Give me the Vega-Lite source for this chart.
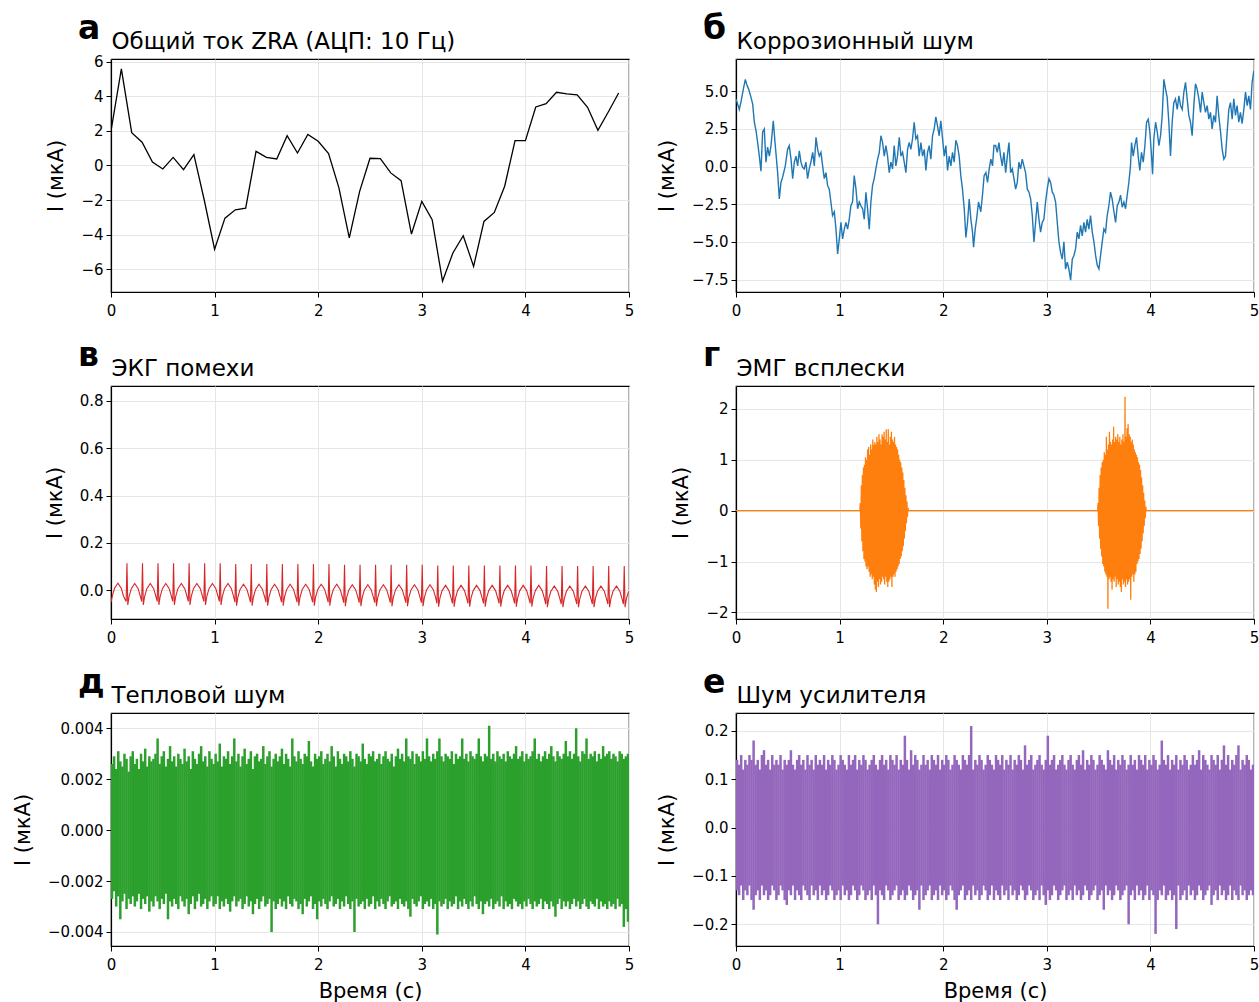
{
"$schema": "https://vega.github.io/schema/vega-lite/v6.json",
"background": "white",
"padding": {"left": 11, "top": 12, "right": 0, "bottom": 0},
"columns": 2,
"bounds": "flush",
"spacing": {"column": 107, "row": 94},
"config": {
  "font": "DejaVu Sans",
  "view": {"stroke": "#000000", "strokeWidth": 1.2},
  "axis": {"labelFont": "DejaVu Sans", "labelFontSize": 15, "labelColor": "#000000", "titleFont": "DejaVu Sans", "titleFontSize": 21, "titleFontWeight": "normal", "titleColor": "#000000", "tickColor": "#000000", "tickSize": 5, "tickWidth": 1, "domainColor": "#000000", "domainWidth": 1.2, "gridColor": "#e6e6e6", "gridWidth": 1, "labelPadding": 3, "labelFlush": false},
  "axisY": {"titlePadding": 14},
  "axisX": {"titlePadding": 8, "labelPadding": 6},
  "title": {"font": "DejaVu Sans", "fontSize": 33, "fontWeight": "bold", "color": "#000000", "anchor": "start", "frame": "group", "dx": -33, "offset": -16}
},
"concat": [
{
  "width": 518, "height": 233,
  "title": {"text": "а"},
  "data": {"values": [{"t":0,"v":2.0},{"t":0.1,"v":5.6},{"t":0.2,"v":1.9},{"t":0.3,"v":1.35},{"t":0.4,"v":0.2},{"t":0.5,"v":-0.2},{"t":0.6,"v":0.47},{"t":0.7,"v":-0.24},{"t":0.8,"v":0.63},{"t":0.9,"v":-2.0},{"t":1.0,"v":-4.85},{"t":1.1,"v":-3.05},{"t":1.2,"v":-2.57},{"t":1.3,"v":-2.47},{"t":1.4,"v":0.82},{"t":1.5,"v":0.47},{"t":1.6,"v":0.38},{"t":1.7,"v":1.73},{"t":1.8,"v":0.72},{"t":1.9,"v":1.8},{"t":2.0,"v":1.4},{"t":2.1,"v":0.69},{"t":2.2,"v":-1.3},{"t":2.3,"v":-4.2},{"t":2.4,"v":-1.5},{"t":2.5,"v":0.42},{"t":2.6,"v":0.4},{"t":2.7,"v":-0.43},{"t":2.8,"v":-0.88},{"t":2.9,"v":-3.97},{"t":3.0,"v":-2.08},{"t":3.1,"v":-3.14},{"t":3.2,"v":-6.7},{"t":3.3,"v":-5.07},{"t":3.4,"v":-4.07},{"t":3.5,"v":-5.85},{"t":3.6,"v":-3.24},{"t":3.7,"v":-2.72},{"t":3.8,"v":-1.2},{"t":3.9,"v":1.44},{"t":4.0,"v":1.44},{"t":4.1,"v":3.39},{"t":4.2,"v":3.58},{"t":4.3,"v":4.24},{"t":4.4,"v":4.15},{"t":4.5,"v":4.09},{"t":4.6,"v":3.37},{"t":4.7,"v":2.04},{"t":4.8,"v":3.1},{"t":4.9,"v":4.2}]},
  "layer": [
    {"mark": {"type": "line", "color": "#000000", "strokeWidth": 1.3, "clip": true},
     "encoding": {
       "x": {"field": "t", "type": "quantitative", "scale": {"domain": [0, 5], "nice": false}, "axis": {"values": [0,1,2,3,4,5], "format": "d", "title": null}},
       "y": {"field": "v", "type": "quantitative", "scale": {"domain": [-7.33, 6.17], "nice": false, "zero": false}, "axis": {"values": [-6,-4,-2,0,2,4,6], "format": "d", "title": "I (мкА)"}}}},
    {"mark": {"type": "line", "opacity": 0},
     "encoding": {
       "x": {"field": "t", "type": "quantitative", "scale": {"domain": [0, 5], "nice": false}, "axis": {"orient": "top", "title": "Общий ток ZRA (АЦП: 10 Гц)", "labels": false, "ticks": false, "domain": false, "grid": false, "titleX": 0, "titleY": -11, "titleAlign": "left", "titleBaseline": "alphabetic", "titleFontSize": 23}},
       "y": {"field": "v", "type": "quantitative", "scale": {"domain": [-7.33, 6.17], "nice": false, "zero": false}, "axis": {"values": [-6,-4,-2,0,2,4,6], "format": "d", "title": "I (мкА)"}}}}
  ],
  "resolve": {"axis": {"x": "independent"}}
},
{
  "width": 518, "height": 233,
  "title": {"text": "б"},
  "data": {"values": [{"t":0,"v":4.5},{"t":0.032,"v":3.8},{"t":0.048,"v":4.3},{"t":0.071,"v":5.15},{"t":0.09,"v":5.8},{"t":0.106,"v":5.4},{"t":0.122,"v":5.15},{"t":0.145,"v":4.6},{"t":0.161,"v":4.15},{"t":0.177,"v":2.95},{"t":0.193,"v":2.4},{"t":0.209,"v":1.6},{"t":0.225,"v":0.7},{"t":0.241,"v":-0.3},{"t":0.257,"v":2.3},{"t":0.273,"v":2.5},{"t":0.289,"v":0.3},{"t":0.305,"v":1.3},{"t":0.322,"v":0.7},{"t":0.338,"v":1.4},{"t":0.36,"v":3.05},{"t":0.379,"v":1.4},{"t":0.402,"v":-0.4},{"t":0.418,"v":-2.15},{"t":0.434,"v":-1.05},{"t":0.45,"v":-0.7},{"t":0.476,"v":0.05},{"t":0.498,"v":1.15},{"t":0.514,"v":1.4},{"t":0.531,"v":0.5},{"t":0.547,"v":-0.8},{"t":0.563,"v":0.3},{"t":0.579,"v":0.7},{"t":0.595,"v":0.05},{"t":0.611,"v":1.05},{"t":0.627,"v":0.3},{"t":0.643,"v":-0.05},{"t":0.659,"v":-0.15},{"t":0.675,"v":0.3},{"t":0.691,"v":-0.8},{"t":0.707,"v":-0.15},{"t":0.723,"v":0.3},{"t":0.74,"v":0.95},{"t":0.756,"v":0.05},{"t":0.772,"v":1.95},{"t":0.788,"v":1.15},{"t":0.804,"v":0.7},{"t":0.82,"v":0.95},{"t":0.836,"v":0.05},{"t":0.852,"v":-0.8},{"t":0.868,"v":-0.4},{"t":0.884,"v":-1.25},{"t":0.9,"v":-1.5},{"t":0.916,"v":-2.35},{"t":0.932,"v":-3.25},{"t":0.949,"v":-3.0},{"t":0.965,"v":-4.15},{"t":0.981,"v":-5.8},{"t":0.997,"v":-4.8},{"t":1.013,"v":-3.7},{"t":1.029,"v":-4.8},{"t":1.045,"v":-4.15},{"t":1.061,"v":-3.7},{"t":1.077,"v":-4.15},{"t":1.093,"v":-3.5},{"t":1.109,"v":-2.6},{"t":1.125,"v":-2.35},{"t":1.141,"v":-0.6},{"t":1.158,"v":-1.5},{"t":1.174,"v":-2.8},{"t":1.19,"v":-2.35},{"t":1.206,"v":-2.6},{"t":1.222,"v":-2.8},{"t":1.238,"v":-3.5},{"t":1.254,"v":-1.7},{"t":1.27,"v":-2.8},{"t":1.286,"v":-4.15},{"t":1.302,"v":-2.35},{"t":1.318,"v":-1.25},{"t":1.334,"v":-0.8},{"t":1.35,"v":-0.15},{"t":1.367,"v":0.5},{"t":1.383,"v":0.95},{"t":1.399,"v":2.05},{"t":1.415,"v":1.6},{"t":1.431,"v":0.7},{"t":1.447,"v":1.4},{"t":1.463,"v":0.7},{"t":1.479,"v":-0.4},{"t":1.495,"v":0.3},{"t":1.511,"v":-0.15},{"t":1.527,"v":1.4},{"t":1.543,"v":0.05},{"t":1.559,"v":0.7},{"t":1.576,"v":1.95},{"t":1.592,"v":0.7},{"t":1.608,"v":0.95},{"t":1.624,"v":0.3},{"t":1.64,"v":-0.4},{"t":1.656,"v":1.15},{"t":1.672,"v":1.6},{"t":1.688,"v":1.15},{"t":1.704,"v":1.85},{"t":1.72,"v":2.95},{"t":1.736,"v":1.85},{"t":1.752,"v":2.05},{"t":1.768,"v":0.7},{"t":1.785,"v":1.6},{"t":1.801,"v":0.7},{"t":1.817,"v":1.15},{"t":1.833,"v":-0.25},{"t":1.849,"v":0.95},{"t":1.865,"v":1.4},{"t":1.881,"v":0.5},{"t":1.897,"v":2.05},{"t":1.913,"v":2.5},{"t":1.929,"v":3.3},{"t":1.945,"v":2.7},{"t":1.961,"v":2.05},{"t":1.977,"v":3.05},{"t":1.994,"v":1.85},{"t":2.01,"v":0.7},{"t":2.026,"v":1.4},{"t":2.042,"v":-0.25},{"t":2.058,"v":0.7},{"t":2.074,"v":0.05},{"t":2.09,"v":0.95},{"t":2.106,"v":0.3},{"t":2.122,"v":1.75},{"t":2.138,"v":1.4},{"t":2.154,"v":0.7},{"t":2.17,"v":-0.6},{"t":2.186,"v":-1.5},{"t":2.203,"v":-2.8},{"t":2.219,"v":-4.7},{"t":2.235,"v":-3.7},{"t":2.251,"v":-2.15},{"t":2.267,"v":-3.5},{"t":2.283,"v":-4.35},{"t":2.293,"v":-5.35},{"t":2.309,"v":-4.15},{"t":2.322,"v":-3.5},{"t":2.341,"v":-2.35},{"t":2.363,"v":-3.0},{"t":2.379,"v":-1.9},{"t":2.395,"v":-0.6},{"t":2.412,"v":-0.4},{"t":2.428,"v":-1.05},{"t":2.444,"v":-0.15},{"t":2.46,"v":0.5},{"t":2.476,"v":0.05},{"t":2.49,"v":1.4},{"t":2.506,"v":1.4},{"t":2.522,"v":0.95},{"t":2.538,"v":1.6},{"t":2.554,"v":0.7},{"t":2.57,"v":0.05},{"t":2.586,"v":0.95},{"t":2.603,"v":-0.4},{"t":2.619,"v":0.7},{"t":2.635,"v":1.6},{"t":2.651,"v":-0.4},{"t":2.667,"v":-0.15},{"t":2.683,"v":-0.8},{"t":2.699,"v":-1.5},{"t":2.715,"v":-1.05},{"t":2.731,"v":0.3},{"t":2.747,"v":-0.15},{"t":2.763,"v":0.5},{"t":2.779,"v":0.05},{"t":2.795,"v":-0.4},{"t":2.812,"v":-1.5},{"t":2.828,"v":-1.7},{"t":2.844,"v":-2.15},{"t":2.86,"v":-3.25},{"t":2.876,"v":-5.0},{"t":2.892,"v":-3.7},{"t":2.908,"v":-2.35},{"t":2.924,"v":-3.5},{"t":2.94,"v":-4.35},{"t":2.956,"v":-3.7},{"t":2.972,"v":-3.5},{"t":2.988,"v":-2.35},{"t":3.004,"v":-1.5},{"t":3.021,"v":-0.8},{"t":3.037,"v":-1.05},{"t":3.053,"v":-1.7},{"t":3.069,"v":-1.9},{"t":3.085,"v":-2.35},{"t":3.101,"v":-3.7},{"t":3.117,"v":-5.0},{"t":3.133,"v":-5.7},{"t":3.149,"v":-6.15},{"t":3.165,"v":-5.0},{"t":3.181,"v":-6.8},{"t":3.197,"v":-6.35},{"t":3.213,"v":-6.8},{"t":3.23,"v":-7.55},{"t":3.246,"v":-6.15},{"t":3.262,"v":-5.9},{"t":3.278,"v":-5.45},{"t":3.294,"v":-4.35},{"t":3.31,"v":-4.8},{"t":3.326,"v":-3.9},{"t":3.342,"v":-4.6},{"t":3.358,"v":-3.7},{"t":3.374,"v":-4.35},{"t":3.39,"v":-3.5},{"t":3.406,"v":-4.15},{"t":3.422,"v":-3.25},{"t":3.439,"v":-4.35},{"t":3.455,"v":-5.0},{"t":3.471,"v":-5.9},{"t":3.487,"v":-6.55},{"t":3.503,"v":-6.8},{"t":3.519,"v":-5.9},{"t":3.535,"v":-5.0},{"t":3.551,"v":-4.15},{"t":3.567,"v":-4.35},{"t":3.583,"v":-3.25},{"t":3.599,"v":-2.6},{"t":3.615,"v":-1.7},{"t":3.631,"v":-2.15},{"t":3.648,"v":-3.0},{"t":3.664,"v":-3.7},{"t":3.68,"v":-2.6},{"t":3.696,"v":-2.35},{"t":3.712,"v":-1.9},{"t":3.728,"v":-2.7},{"t":3.744,"v":-2.35},{"t":3.76,"v":-2.8},{"t":3.776,"v":-1.9},{"t":3.792,"v":-1.05},{"t":3.808,"v":0.05},{"t":3.818,"v":1.6},{"t":3.834,"v":0.7},{"t":3.85,"v":1.4},{"t":3.866,"v":1.95},{"t":3.882,"v":0.7},{"t":3.898,"v":-0.25},{"t":3.914,"v":0.95},{"t":3.931,"v":0.3},{"t":3.947,"v":1.4},{"t":3.963,"v":2.95},{"t":3.979,"v":3.15},{"t":3.995,"v":2.3},{"t":4.011,"v":0.7},{"t":4.021,"v":-0.5},{"t":4.033,"v":1.85},{"t":4.05,"v":2.95},{"t":4.066,"v":2.3},{"t":4.082,"v":1.4},{"t":4.098,"v":2.05},{"t":4.114,"v":3.4},{"t":4.13,"v":5.8},{"t":4.146,"v":5.15},{"t":4.162,"v":4.6},{"t":4.178,"v":2.95},{"t":4.194,"v":0.7},{"t":4.21,"v":2.95},{"t":4.226,"v":4.25},{"t":4.242,"v":4.5},{"t":4.259,"v":3.8},{"t":4.275,"v":4.7},{"t":4.291,"v":4.05},{"t":4.307,"v":3.8},{"t":4.323,"v":4.95},{"t":4.339,"v":5.6},{"t":4.355,"v":4.5},{"t":4.371,"v":3.4},{"t":4.387,"v":2.95},{"t":4.403,"v":2.05},{"t":4.419,"v":4.05},{"t":4.435,"v":5.5},{"t":4.451,"v":5.15},{"t":4.468,"v":4.5},{"t":4.484,"v":3.6},{"t":4.5,"v":4.95},{"t":4.516,"v":4.25},{"t":4.532,"v":3.6},{"t":4.548,"v":4.05},{"t":4.564,"v":3.15},{"t":4.58,"v":3.6},{"t":4.596,"v":2.5},{"t":4.612,"v":3.4},{"t":4.628,"v":2.95},{"t":4.644,"v":4.7},{"t":4.66,"v":3.4},{"t":4.677,"v":2.3},{"t":4.693,"v":1.15},{"t":4.709,"v":0.5},{"t":4.725,"v":0.7},{"t":4.741,"v":2.3},{"t":4.757,"v":3.8},{"t":4.773,"v":4.25},{"t":4.789,"v":3.15},{"t":4.805,"v":4.5},{"t":4.821,"v":3.4},{"t":4.837,"v":4.05},{"t":4.853,"v":2.95},{"t":4.869,"v":3.6},{"t":4.885,"v":2.85},{"t":4.902,"v":3.8},{"t":4.918,"v":4.95},{"t":4.934,"v":4.05},{"t":4.95,"v":4.7},{"t":4.966,"v":3.8},{"t":4.982,"v":5.6},{"t":4.998,"v":6.35}]},
  "layer": [
    {"mark": {"type": "line", "color": "#1f77b4", "strokeWidth": 1.4, "clip": true},
     "encoding": {
       "x": {"field": "t", "type": "quantitative", "scale": {"domain": [0, 5], "nice": false}, "axis": {"values": [0,1,2,3,4,5], "format": "d", "title": null}},
       "y": {"field": "v", "type": "quantitative", "scale": {"domain": [-8.33, 7.15], "nice": false, "zero": false}, "axis": {"values": [-7.5,-5,-2.5,0,2.5,5], "format": ".1f", "title": "I (мкА)"}}}},
    {"mark": {"type": "line", "opacity": 0},
     "encoding": {
       "x": {"field": "t", "type": "quantitative", "scale": {"domain": [0, 5], "nice": false}, "axis": {"orient": "top", "title": "Коррозионный шум", "labels": false, "ticks": false, "domain": false, "grid": false, "titleX": 0, "titleY": -11, "titleAlign": "left", "titleBaseline": "alphabetic", "titleFontSize": 23}},
       "y": {"field": "v", "type": "quantitative", "scale": {"domain": [-8.33, 7.15], "nice": false, "zero": false}, "axis": {"values": [-7.5,-5,-2.5,0,2.5,5], "format": ".1f", "title": "I (мкА)"}}}}
  ],
  "resolve": {"axis": {"x": "independent"}}
},
{
  "width": 518, "height": 233,
  "title": {"text": "в"},
  "data": {"values": [{"t":0,"v":-0.05},{"t":0.015,"v":-0.02},{"t":0.035,"v":0.01},{"t":0.067,"v":0.03},{"t":0.1,"v":0.008},{"t":0.121,"v":-0.025},
{"t":0.146,"v":-0.047},{"t":0.154,"v":0.114},{"t":0.162,"v":-0.062},{"t":0.175,"v":-0.025},{"t":0.196,"v":0.007},{"t":0.229,"v":0.029},{"t":0.262,"v":0.007},{"t":0.283,"v":-0.025},
{"t":0.296,"v":-0.047},{"t":0.304,"v":0.114},{"t":0.312,"v":-0.062},{"t":0.325,"v":-0.025},{"t":0.346,"v":0.007},{"t":0.379,"v":0.029},{"t":0.412,"v":0.007},{"t":0.433,"v":-0.025},
{"t":0.446,"v":-0.047},{"t":0.454,"v":0.114},{"t":0.462,"v":-0.062},{"t":0.475,"v":-0.025},{"t":0.496,"v":0.007},{"t":0.529,"v":0.029},{"t":0.562,"v":0.007},{"t":0.583,"v":-0.025},
{"t":0.596,"v":-0.047},{"t":0.604,"v":0.114},{"t":0.612,"v":-0.062},{"t":0.625,"v":-0.025},{"t":0.646,"v":0.007},{"t":0.679,"v":0.029},{"t":0.712,"v":0.007},{"t":0.733,"v":-0.025},
{"t":0.746,"v":-0.047},{"t":0.754,"v":0.114},{"t":0.762,"v":-0.062},{"t":0.775,"v":-0.025},{"t":0.796,"v":0.007},{"t":0.829,"v":0.029},{"t":0.862,"v":0.007},{"t":0.883,"v":-0.025},
{"t":0.896,"v":-0.047},{"t":0.904,"v":0.114},{"t":0.912,"v":-0.062},{"t":0.925,"v":-0.025},{"t":0.946,"v":0.007},{"t":0.979,"v":0.029},{"t":1.012,"v":0.007},{"t":1.033,"v":-0.025},
{"t":1.046,"v":-0.047},{"t":1.054,"v":0.114},{"t":1.062,"v":-0.062},{"t":1.075,"v":-0.025},{"t":1.096,"v":0.007},{"t":1.129,"v":0.029},{"t":1.162,"v":0.007},{"t":1.183,"v":-0.025},
{"t":1.196,"v":-0.05},{"t":1.204,"v":0.111},{"t":1.212,"v":-0.065},{"t":1.225,"v":-0.028},{"t":1.246,"v":0.004},{"t":1.279,"v":0.026},{"t":1.312,"v":0.004},{"t":1.333,"v":-0.028},
{"t":1.346,"v":-0.05},{"t":1.354,"v":0.111},{"t":1.362,"v":-0.065},{"t":1.375,"v":-0.028},{"t":1.396,"v":0.004},{"t":1.429,"v":0.026},{"t":1.462,"v":0.004},{"t":1.483,"v":-0.028},
{"t":1.496,"v":-0.05},{"t":1.504,"v":0.111},{"t":1.512,"v":-0.065},{"t":1.525,"v":-0.028},{"t":1.546,"v":0.004},{"t":1.579,"v":0.026},{"t":1.612,"v":0.004},{"t":1.633,"v":-0.028},
{"t":1.646,"v":-0.05},{"t":1.654,"v":0.111},{"t":1.662,"v":-0.065},{"t":1.675,"v":-0.028},{"t":1.696,"v":0.004},{"t":1.729,"v":0.026},{"t":1.762,"v":0.004},{"t":1.783,"v":-0.028},
{"t":1.796,"v":-0.05},{"t":1.804,"v":0.111},{"t":1.812,"v":-0.065},{"t":1.825,"v":-0.028},{"t":1.846,"v":0.004},{"t":1.879,"v":0.026},{"t":1.912,"v":0.004},{"t":1.933,"v":-0.028},
{"t":1.946,"v":-0.05},{"t":1.954,"v":0.111},{"t":1.962,"v":-0.065},{"t":1.975,"v":-0.028},{"t":1.996,"v":0.004},{"t":2.029,"v":0.026},{"t":2.062,"v":0.004},{"t":2.083,"v":-0.028},
{"t":2.096,"v":-0.05},{"t":2.104,"v":0.111},{"t":2.112,"v":-0.065},{"t":2.125,"v":-0.028},{"t":2.146,"v":0.004},{"t":2.179,"v":0.026},{"t":2.212,"v":0.004},{"t":2.233,"v":-0.028},
{"t":2.246,"v":-0.052},{"t":2.254,"v":0.108},{"t":2.262,"v":-0.067},{"t":2.275,"v":-0.03},{"t":2.296,"v":0.002},{"t":2.329,"v":0.024},{"t":2.362,"v":0.002},{"t":2.383,"v":-0.03},
{"t":2.396,"v":-0.052},{"t":2.404,"v":0.108},{"t":2.412,"v":-0.067},{"t":2.425,"v":-0.03},{"t":2.446,"v":0.002},{"t":2.479,"v":0.024},{"t":2.512,"v":0.002},{"t":2.533,"v":-0.03},
{"t":2.546,"v":-0.052},{"t":2.554,"v":0.108},{"t":2.562,"v":-0.067},{"t":2.575,"v":-0.03},{"t":2.596,"v":0.002},{"t":2.629,"v":0.024},{"t":2.662,"v":0.002},{"t":2.683,"v":-0.03},
{"t":2.696,"v":-0.052},{"t":2.704,"v":0.108},{"t":2.712,"v":-0.067},{"t":2.725,"v":-0.03},{"t":2.746,"v":0.002},{"t":2.779,"v":0.024},{"t":2.812,"v":0.002},{"t":2.833,"v":-0.03},
{"t":2.846,"v":-0.052},{"t":2.854,"v":0.108},{"t":2.862,"v":-0.067},{"t":2.875,"v":-0.03},{"t":2.896,"v":0.002},{"t":2.929,"v":0.024},{"t":2.962,"v":0.002},{"t":2.983,"v":-0.03},
{"t":2.996,"v":-0.052},{"t":3.004,"v":0.108},{"t":3.012,"v":-0.067},{"t":3.025,"v":-0.03},{"t":3.046,"v":0.002},{"t":3.079,"v":0.024},{"t":3.112,"v":0.002},{"t":3.133,"v":-0.03},
{"t":3.146,"v":-0.055},{"t":3.154,"v":0.105},{"t":3.162,"v":-0.069},{"t":3.175,"v":-0.033},{"t":3.196,"v":-0.001},{"t":3.229,"v":0.021},{"t":3.262,"v":-0.001},{"t":3.283,"v":-0.033},
{"t":3.296,"v":-0.055},{"t":3.304,"v":0.105},{"t":3.312,"v":-0.069},{"t":3.325,"v":-0.033},{"t":3.346,"v":-0.001},{"t":3.379,"v":0.021},{"t":3.412,"v":-0.001},{"t":3.433,"v":-0.033},
{"t":3.446,"v":-0.055},{"t":3.454,"v":0.105},{"t":3.462,"v":-0.069},{"t":3.475,"v":-0.033},{"t":3.496,"v":-0.001},{"t":3.529,"v":0.021},{"t":3.562,"v":-0.001},{"t":3.583,"v":-0.033},
{"t":3.596,"v":-0.055},{"t":3.604,"v":0.105},{"t":3.612,"v":-0.069},{"t":3.625,"v":-0.033},{"t":3.646,"v":-0.001},{"t":3.679,"v":0.021},{"t":3.712,"v":-0.001},{"t":3.733,"v":-0.033},
{"t":3.746,"v":-0.055},{"t":3.754,"v":0.105},{"t":3.762,"v":-0.069},{"t":3.775,"v":-0.033},{"t":3.796,"v":-0.001},{"t":3.829,"v":0.021},{"t":3.862,"v":-0.001},{"t":3.883,"v":-0.033},
{"t":3.896,"v":-0.055},{"t":3.904,"v":0.105},{"t":3.912,"v":-0.069},{"t":3.925,"v":-0.033},{"t":3.946,"v":-0.001},{"t":3.979,"v":0.021},{"t":4.012,"v":-0.001},{"t":4.033,"v":-0.033},
{"t":4.046,"v":-0.055},{"t":4.054,"v":0.105},{"t":4.062,"v":-0.069},{"t":4.075,"v":-0.033},{"t":4.096,"v":-0.001},{"t":4.129,"v":0.021},{"t":4.162,"v":-0.001},{"t":4.183,"v":-0.033},
{"t":4.196,"v":-0.058},{"t":4.204,"v":0.103},{"t":4.212,"v":-0.071},{"t":4.225,"v":-0.036},{"t":4.246,"v":-0.004},{"t":4.279,"v":0.018},{"t":4.312,"v":-0.004},{"t":4.333,"v":-0.036},
{"t":4.346,"v":-0.058},{"t":4.354,"v":0.103},{"t":4.362,"v":-0.071},{"t":4.375,"v":-0.036},{"t":4.396,"v":-0.004},{"t":4.429,"v":0.018},{"t":4.462,"v":-0.004},{"t":4.483,"v":-0.036},
{"t":4.496,"v":-0.058},{"t":4.504,"v":0.103},{"t":4.512,"v":-0.071},{"t":4.525,"v":-0.036},{"t":4.546,"v":-0.004},{"t":4.579,"v":0.018},{"t":4.612,"v":-0.004},{"t":4.633,"v":-0.036},
{"t":4.646,"v":-0.058},{"t":4.654,"v":0.103},{"t":4.662,"v":-0.071},{"t":4.675,"v":-0.036},{"t":4.696,"v":-0.004},{"t":4.729,"v":0.018},{"t":4.762,"v":-0.004},{"t":4.783,"v":-0.036},
{"t":4.796,"v":-0.058},{"t":4.804,"v":0.103},{"t":4.812,"v":-0.071},{"t":4.825,"v":-0.036},{"t":4.846,"v":-0.004},{"t":4.879,"v":0.018},{"t":4.912,"v":-0.004},{"t":4.933,"v":-0.036},
{"t":4.946,"v":-0.058},{"t":4.954,"v":0.103},{"t":4.962,"v":-0.071},{"t":4.975,"v":-0.036},{"t":4.996,"v":-0.004}]},
  "layer": [
    {"mark": {"type": "line", "color": "#d62728", "strokeWidth": 1.1, "clip": true},
     "encoding": {
       "x": {"field": "t", "type": "quantitative", "scale": {"domain": [0, 5], "nice": false}, "axis": {"values": [0,1,2,3,4,5], "format": "d", "title": null}},
       "y": {"field": "v", "type": "quantitative", "scale": {"domain": [-0.121, 0.863], "nice": false, "zero": false}, "axis": {"values": [0,0.2,0.4,0.6,0.8], "format": ".1f", "title": "I (мкА)"}}}},
    {"mark": {"type": "line", "opacity": 0},
     "encoding": {
       "x": {"field": "t", "type": "quantitative", "scale": {"domain": [0, 5], "nice": false}, "axis": {"orient": "top", "title": "ЭКГ помехи", "labels": false, "ticks": false, "domain": false, "grid": false, "titleX": 0, "titleY": -11, "titleAlign": "left", "titleBaseline": "alphabetic", "titleFontSize": 23}},
       "y": {"field": "v", "type": "quantitative", "scale": {"domain": [-0.121, 0.863], "nice": false, "zero": false}, "axis": {"values": [0,0.2,0.4,0.6,0.8], "format": ".1f", "title": "I (мкА)"}}}}
  ],
  "resolve": {"axis": {"x": "independent"}}
},
{
  "width": 518, "height": 233,
  "title": {"text": "г"},
  "data": {"values": [{"t":0,"v":0},{"t":1.195,"v":0},
{"t":1.2,"v":0.15},{"t":1.205,"v":-0.35},{"t":1.21,"v":0.5},{"t":1.215,"v":-0.6},{"t":1.22,"v":0.7},{"t":1.225,"v":-0.8},{"t":1.23,"v":0.85},{"t":1.235,"v":-0.95},{"t":1.24,"v":0.9},{"t":1.245,"v":-1.0},{"t":1.25,"v":1.05},{"t":1.255,"v":-1.1},{"t":1.26,"v":1.0},{"t":1.265,"v":-1.15},{"t":1.27,"v":1.2},{"t":1.275,"v":-1.1},{"t":1.28,"v":1.25},{"t":1.285,"v":-1.2},{"t":1.29,"v":1.1},{"t":1.295,"v":-1.3},{"t":1.3,"v":1.3},{"t":1.305,"v":-1.25},{"t":1.31,"v":1.2},{"t":1.315,"v":-1.35},{"t":1.32,"v":1.4},{"t":1.325,"v":-1.3},{"t":1.33,"v":1.3},{"t":1.335,"v":-1.45},{"t":1.34,"v":1.35},{"t":1.345,"v":-1.55},{"t":1.35,"v":1.3},{"t":1.355,"v":-1.6},{"t":1.36,"v":1.45},{"t":1.365,"v":-1.4},{"t":1.37,"v":1.35},{"t":1.375,"v":-1.5},{"t":1.38,"v":1.5},{"t":1.385,"v":-1.35},{"t":1.39,"v":1.4},{"t":1.395,"v":-1.45},{"t":1.4,"v":1.3},{"t":1.405,"v":-1.4},{"t":1.41,"v":1.5},{"t":1.415,"v":-1.3},{"t":1.42,"v":1.45},{"t":1.425,"v":-1.35},{"t":1.43,"v":1.55},{"t":1.435,"v":-1.45},{"t":1.44,"v":1.4},{"t":1.445,"v":-1.3},{"t":1.45,"v":1.6},{"t":1.455,"v":-1.4},{"t":1.46,"v":1.35},{"t":1.465,"v":-1.5},{"t":1.47,"v":1.6},{"t":1.475,"v":-1.4},{"t":1.48,"v":1.3},{"t":1.485,"v":-1.35},{"t":1.49,"v":1.45},{"t":1.495,"v":-1.3},{"t":1.5,"v":1.55},{"t":1.505,"v":-1.5},{"t":1.51,"v":1.4},{"t":1.515,"v":-1.3},{"t":1.52,"v":1.35},{"t":1.525,"v":-1.25},{"t":1.53,"v":1.45},{"t":1.535,"v":-1.3},{"t":1.54,"v":1.3},{"t":1.545,"v":-1.2},{"t":1.55,"v":1.25},{"t":1.555,"v":-1.15},{"t":1.56,"v":1.2},{"t":1.565,"v":-1.1},{"t":1.57,"v":1.1},{"t":1.575,"v":-1.05},{"t":1.58,"v":1.0},{"t":1.585,"v":-0.95},{"t":1.59,"v":0.95},{"t":1.595,"v":-0.9},{"t":1.6,"v":0.85},{"t":1.605,"v":-0.8},{"t":1.61,"v":0.75},{"t":1.615,"v":-0.7},{"t":1.62,"v":0.6},{"t":1.625,"v":-0.55},{"t":1.63,"v":0.45},{"t":1.635,"v":-0.4},{"t":1.64,"v":0.3},{"t":1.645,"v":-0.25},{"t":1.65,"v":0.18},{"t":1.655,"v":-0.12},{"t":1.66,"v":0.06},{"t":1.665,"v":0},
{"t":3.49,"v":0},
{"t":3.495,"v":0.15},{"t":3.5,"v":-0.3},{"t":3.505,"v":0.45},{"t":3.51,"v":-0.55},{"t":3.515,"v":0.7},{"t":3.52,"v":-0.75},{"t":3.525,"v":0.85},{"t":3.53,"v":-0.9},{"t":3.535,"v":0.95},{"t":3.54,"v":-1.05},{"t":3.545,"v":1.0},{"t":3.55,"v":-1.1},{"t":3.555,"v":1.15},{"t":3.56,"v":-1.2},{"t":3.565,"v":1.1},{"t":3.57,"v":-1.25},{"t":3.575,"v":1.45},{"t":3.58,"v":-1.3},{"t":3.585,"v":1.2},{"t":3.59,"v":-1.93},{"t":3.595,"v":1.3},{"t":3.6,"v":-1.35},{"t":3.605,"v":1.55},{"t":3.61,"v":-1.3},{"t":3.615,"v":1.35},{"t":3.62,"v":-1.4},{"t":3.625,"v":1.3},{"t":3.63,"v":-1.55},{"t":3.635,"v":1.4},{"t":3.64,"v":-1.35},{"t":3.645,"v":1.65},{"t":3.65,"v":-1.4},{"t":3.655,"v":1.35},{"t":3.66,"v":-1.3},{"t":3.665,"v":1.45},{"t":3.67,"v":-1.5},{"t":3.675,"v":1.4},{"t":3.68,"v":-1.35},{"t":3.685,"v":1.5},{"t":3.69,"v":-1.45},{"t":3.695,"v":1.35},{"t":3.7,"v":-1.4},{"t":3.705,"v":1.45},{"t":3.71,"v":-1.5},{"t":3.715,"v":1.3},{"t":3.72,"v":-1.6},{"t":3.725,"v":1.4},{"t":3.73,"v":-1.35},{"t":3.735,"v":1.5},{"t":3.74,"v":-1.45},{"t":3.745,"v":1.35},{"t":3.75,"v":-1.4},{"t":3.755,"v":2.24},{"t":3.76,"v":-1.5},{"t":3.765,"v":1.45},{"t":3.77,"v":-1.35},{"t":3.775,"v":1.62},{"t":3.78,"v":-1.45},{"t":3.785,"v":1.7},{"t":3.79,"v":-1.4},{"t":3.795,"v":1.5},{"t":3.8,"v":-1.35},{"t":3.805,"v":1.45},{"t":3.81,"v":-1.75},{"t":3.815,"v":1.35},{"t":3.82,"v":-1.3},{"t":3.825,"v":1.4},{"t":3.83,"v":-1.25},{"t":3.835,"v":1.3},{"t":3.84,"v":-1.4},{"t":3.845,"v":1.2},{"t":3.85,"v":-1.25},{"t":3.855,"v":1.15},{"t":3.86,"v":-1.2},{"t":3.865,"v":1.1},{"t":3.87,"v":-1.05},{"t":3.875,"v":1.05},{"t":3.88,"v":-1.0},{"t":3.885,"v":0.95},{"t":3.89,"v":-0.95},{"t":3.895,"v":0.9},{"t":3.9,"v":-0.85},{"t":3.905,"v":0.8},{"t":3.91,"v":-0.75},{"t":3.915,"v":0.65},{"t":3.92,"v":-0.6},{"t":3.925,"v":0.5},{"t":3.93,"v":-0.45},{"t":3.935,"v":0.35},{"t":3.94,"v":-0.3},{"t":3.945,"v":0.2},{"t":3.95,"v":-0.15},{"t":3.955,"v":0.08},{"t":3.96,"v":0},
{"t":5,"v":0}]},
  "layer": [
    {"mark": {"type": "line", "color": "#ff7f0e", "strokeWidth": 1.3, "clip": true},
     "encoding": {
       "x": {"field": "t", "type": "quantitative", "scale": {"domain": [0, 5], "nice": false}, "axis": {"values": [0,1,2,3,4,5], "format": "d", "title": null}},
       "y": {"field": "v", "type": "quantitative", "scale": {"domain": [-2.13, 2.45], "nice": false, "zero": false}, "axis": {"values": [-2,-1,0,1,2], "format": "d", "title": "I (мкА)"}}}},
    {"mark": {"type": "line", "opacity": 0},
     "encoding": {
       "x": {"field": "t", "type": "quantitative", "scale": {"domain": [0, 5], "nice": false}, "axis": {"orient": "top", "title": "ЭМГ всплески", "labels": false, "ticks": false, "domain": false, "grid": false, "titleX": 0, "titleY": -11, "titleAlign": "left", "titleBaseline": "alphabetic", "titleFontSize": 23}},
       "y": {"field": "v", "type": "quantitative", "scale": {"domain": [-2.13, 2.45], "nice": false, "zero": false}, "axis": {"values": [-2,-1,0,1,2], "format": "d", "title": "I (мкА)"}}}}
  ],
  "resolve": {"axis": {"x": "independent"}}
},
{
  "width": 518, "height": 233,
  "title": {"text": "д"},
  "data": {"values": [{"t":0.01,"lo":-0.0027,"hi":0.0026},{"t":0.03,"lo":-0.0024,"hi":0.0029},{"t":0.05,"lo":-0.003,"hi":0.0024},{"t":0.07,"lo":-0.0026,"hi":0.0031},{"t":0.09,"lo":-0.0035,"hi":0.0027},{"t":0.11,"lo":-0.0028,"hi":0.0025},{"t":0.13,"lo":-0.0025,"hi":0.003},{"t":0.15,"lo":-0.0031,"hi":0.0028},{"t":0.17,"lo":-0.0027,"hi":0.0023},{"t":0.19,"lo":-0.0029,"hi":0.0029},
{"t":0.21,"lo":-0.0026,"hi":0.0031},{"t":0.23,"lo":-0.003,"hi":0.0026},{"t":0.25,"lo":-0.0028,"hi":0.0028},{"t":0.27,"lo":-0.0025,"hi":0.0024},{"t":0.29,"lo":-0.0031,"hi":0.003},{"t":0.31,"lo":-0.0027,"hi":0.0027},{"t":0.33,"lo":-0.0029,"hi":0.0032},{"t":0.35,"lo":-0.0026,"hi":0.0025},{"t":0.37,"lo":-0.0032,"hi":0.0029},{"t":0.39,"lo":-0.0028,"hi":0.0027},
{"t":0.41,"lo":-0.003,"hi":0.0028},{"t":0.43,"lo":-0.0026,"hi":0.003},{"t":0.45,"lo":-0.0028,"hi":0.0036},{"t":0.47,"lo":-0.0031,"hi":0.0026},{"t":0.49,"lo":-0.0027,"hi":0.0029},{"t":0.51,"lo":-0.0029,"hi":0.0031},{"t":0.53,"lo":-0.0025,"hi":0.0025},{"t":0.55,"lo":-0.0035,"hi":0.0028},{"t":0.57,"lo":-0.0028,"hi":0.0033},{"t":0.59,"lo":-0.003,"hi":0.0027},
{"t":0.61,"lo":-0.0027,"hi":0.0029},{"t":0.63,"lo":-0.0029,"hi":0.0025},{"t":0.65,"lo":-0.0031,"hi":0.003},{"t":0.67,"lo":-0.0026,"hi":0.0028},{"t":0.69,"lo":-0.0028,"hi":0.0026},{"t":0.71,"lo":-0.003,"hi":0.0032},{"t":0.73,"lo":-0.0027,"hi":0.0027},{"t":0.75,"lo":-0.0033,"hi":0.0029},{"t":0.77,"lo":-0.0029,"hi":0.0024},{"t":0.79,"lo":-0.0026,"hi":0.0031},
{"t":0.81,"lo":-0.0031,"hi":0.0028},{"t":0.83,"lo":-0.0028,"hi":0.0026},{"t":0.85,"lo":-0.0025,"hi":0.003},{"t":0.87,"lo":-0.003,"hi":0.0033},{"t":0.89,"lo":-0.0029,"hi":0.0027},{"t":0.91,"lo":-0.0027,"hi":0.0029},{"t":0.93,"lo":-0.0031,"hi":0.0025},{"t":0.95,"lo":-0.0028,"hi":0.0031},{"t":0.97,"lo":-0.0026,"hi":0.0028},{"t":0.99,"lo":-0.003,"hi":0.0026},
{"t":1.01,"lo":-0.0029,"hi":0.003},{"t":1.03,"lo":-0.0026,"hi":0.0027},{"t":1.05,"lo":-0.0031,"hi":0.0034},{"t":1.07,"lo":-0.0028,"hi":0.0025},{"t":1.09,"lo":-0.003,"hi":0.0029},{"t":1.11,"lo":-0.0027,"hi":0.0028},{"t":1.13,"lo":-0.0029,"hi":0.0031},{"t":1.15,"lo":-0.0032,"hi":0.0026},{"t":1.17,"lo":-0.0028,"hi":0.0029},{"t":1.19,"lo":-0.0026,"hi":0.0036},
{"t":1.21,"lo":-0.003,"hi":0.0027},{"t":1.23,"lo":-0.0028,"hi":0.003},{"t":1.25,"lo":-0.0027,"hi":0.0025},{"t":1.27,"lo":-0.0031,"hi":0.0029},{"t":1.29,"lo":-0.0029,"hi":0.0032},{"t":1.31,"lo":-0.0026,"hi":0.0026},{"t":1.33,"lo":-0.003,"hi":0.0028},{"t":1.35,"lo":-0.0028,"hi":0.0031},{"t":1.37,"lo":-0.0033,"hi":0.0024},{"t":1.39,"lo":-0.0029,"hi":0.0029},
{"t":1.41,"lo":-0.0027,"hi":0.003},{"t":1.43,"lo":-0.0031,"hi":0.0027},{"t":1.45,"lo":-0.0028,"hi":0.0028},{"t":1.47,"lo":-0.0026,"hi":0.0033},{"t":1.49,"lo":-0.003,"hi":0.0026},{"t":1.51,"lo":-0.0029,"hi":0.0029},{"t":1.53,"lo":-0.0027,"hi":0.0031},{"t":1.55,"lo":-0.004,"hi":0.0025},{"t":1.57,"lo":-0.0028,"hi":0.0028},{"t":1.59,"lo":-0.0031,"hi":0.003},
{"t":1.61,"lo":-0.0029,"hi":0.0027},{"t":1.63,"lo":-0.0027,"hi":0.0029},{"t":1.65,"lo":-0.003,"hi":0.0032},{"t":1.67,"lo":-0.0028,"hi":0.0026},{"t":1.69,"lo":-0.0031,"hi":0.003},{"t":1.71,"lo":-0.0026,"hi":0.0028},{"t":1.73,"lo":-0.0029,"hi":0.0025},{"t":1.75,"lo":-0.003,"hi":0.0036},{"t":1.77,"lo":-0.0027,"hi":0.0029},{"t":1.79,"lo":-0.0028,"hi":0.0027},
{"t":1.81,"lo":-0.0031,"hi":0.0031},{"t":1.83,"lo":-0.0029,"hi":0.0028},{"t":1.85,"lo":-0.0033,"hi":0.0026},{"t":1.87,"lo":-0.0027,"hi":0.003},{"t":1.89,"lo":-0.003,"hi":0.0029},{"t":1.91,"lo":-0.0028,"hi":0.0035},{"t":1.93,"lo":-0.0026,"hi":0.0027},{"t":1.95,"lo":-0.0031,"hi":0.0025},{"t":1.97,"lo":-0.0029,"hi":0.003},{"t":1.99,"lo":-0.0035,"hi":0.0028},
{"t":2.01,"lo":-0.0028,"hi":0.0029},{"t":2.03,"lo":-0.003,"hi":0.0031},{"t":2.05,"lo":-0.0027,"hi":0.0026},{"t":2.07,"lo":-0.0029,"hi":0.0028},{"t":2.09,"lo":-0.0031,"hi":0.003},{"t":2.11,"lo":-0.0028,"hi":0.0027},{"t":2.13,"lo":-0.0026,"hi":0.0033},{"t":2.15,"lo":-0.003,"hi":0.0029},{"t":2.17,"lo":-0.0029,"hi":0.0025},{"t":2.19,"lo":-0.0027,"hi":0.0031},
{"t":2.21,"lo":-0.0031,"hi":0.0028},{"t":2.23,"lo":-0.0028,"hi":0.0026},{"t":2.25,"lo":-0.003,"hi":0.003},{"t":2.27,"lo":-0.0026,"hi":0.0029},{"t":2.29,"lo":-0.0029,"hi":0.0027},{"t":2.31,"lo":-0.0031,"hi":0.0031},{"t":2.33,"lo":-0.0028,"hi":0.0028},{"t":2.35,"lo":-0.004,"hi":0.0025},{"t":2.37,"lo":-0.0027,"hi":0.003},{"t":2.39,"lo":-0.003,"hi":0.0029},
{"t":2.41,"lo":-0.0029,"hi":0.0027},{"t":2.43,"lo":-0.0028,"hi":0.0034},{"t":2.45,"lo":-0.0031,"hi":0.0028},{"t":2.47,"lo":-0.0027,"hi":0.0026},{"t":2.49,"lo":-0.003,"hi":0.003},{"t":2.51,"lo":-0.0029,"hi":0.0029},{"t":2.53,"lo":-0.0026,"hi":0.0031},{"t":2.55,"lo":-0.0031,"hi":0.0027},{"t":2.57,"lo":-0.0028,"hi":0.0028},{"t":2.59,"lo":-0.003,"hi":0.003},
{"t":2.61,"lo":-0.0027,"hi":0.0026},{"t":2.63,"lo":-0.0029,"hi":0.0029},{"t":2.65,"lo":-0.0031,"hi":0.0031},{"t":2.67,"lo":-0.0028,"hi":0.0028},{"t":2.69,"lo":-0.0026,"hi":0.0027},{"t":2.71,"lo":-0.003,"hi":0.003},{"t":2.73,"lo":-0.0029,"hi":0.0025},{"t":2.75,"lo":-0.0028,"hi":0.0029},{"t":2.77,"lo":-0.0031,"hi":0.0032},{"t":2.79,"lo":-0.0027,"hi":0.0028},
{"t":2.81,"lo":-0.0029,"hi":0.003},{"t":2.83,"lo":-0.003,"hi":0.0027},{"t":2.85,"lo":-0.0028,"hi":0.0036},{"t":2.87,"lo":-0.0031,"hi":0.0029},{"t":2.89,"lo":-0.0034,"hi":0.0028},{"t":2.91,"lo":-0.0027,"hi":0.0031},{"t":2.93,"lo":-0.0029,"hi":0.0026},{"t":2.95,"lo":-0.003,"hi":0.003},{"t":2.97,"lo":-0.0028,"hi":0.0029},{"t":2.99,"lo":-0.0026,"hi":0.0027},
{"t":3.01,"lo":-0.0031,"hi":0.0031},{"t":3.03,"lo":-0.0029,"hi":0.0028},{"t":3.05,"lo":-0.0028,"hi":0.0036},{"t":3.07,"lo":-0.003,"hi":0.0029},{"t":3.09,"lo":-0.0027,"hi":0.0027},{"t":3.11,"lo":-0.0031,"hi":0.003},{"t":3.13,"lo":-0.0029,"hi":0.0028},{"t":3.15,"lo":-0.0041,"hi":0.0031},{"t":3.17,"lo":-0.0028,"hi":0.0036},{"t":3.19,"lo":-0.003,"hi":0.0029},
{"t":3.21,"lo":-0.0029,"hi":0.0027},{"t":3.23,"lo":-0.0027,"hi":0.003},{"t":3.25,"lo":-0.0031,"hi":0.0029},{"t":3.27,"lo":-0.0028,"hi":0.0028},{"t":3.29,"lo":-0.003,"hi":0.0031},{"t":3.31,"lo":-0.0029,"hi":0.0026},{"t":3.33,"lo":-0.0026,"hi":0.003},{"t":3.35,"lo":-0.0031,"hi":0.0028},{"t":3.37,"lo":-0.0028,"hi":0.0029},{"t":3.39,"lo":-0.003,"hi":0.0036},
{"t":3.41,"lo":-0.0027,"hi":0.0028},{"t":3.43,"lo":-0.0029,"hi":0.003},{"t":3.45,"lo":-0.0031,"hi":0.0027},{"t":3.47,"lo":-0.0028,"hi":0.0031},{"t":3.49,"lo":-0.003,"hi":0.0029},{"t":3.51,"lo":-0.0026,"hi":0.0028},{"t":3.53,"lo":-0.0029,"hi":0.003},{"t":3.55,"lo":-0.0031,"hi":0.0036},{"t":3.57,"lo":-0.0028,"hi":0.0029},{"t":3.59,"lo":-0.0033,"hi":0.0027},
{"t":3.61,"lo":-0.0029,"hi":0.003},{"t":3.63,"lo":-0.0028,"hi":0.0029},{"t":3.65,"lo":-0.003,"hi":0.0041},{"t":3.67,"lo":-0.0027,"hi":0.0028},{"t":3.69,"lo":-0.0031,"hi":0.003},{"t":3.71,"lo":-0.0029,"hi":0.0027},{"t":3.73,"lo":-0.0028,"hi":0.0031},{"t":3.75,"lo":-0.003,"hi":0.0029},{"t":3.77,"lo":-0.0026,"hi":0.0028},{"t":3.79,"lo":-0.0031,"hi":0.003},
{"t":3.81,"lo":-0.0028,"hi":0.0027},{"t":3.83,"lo":-0.003,"hi":0.0031},{"t":3.85,"lo":-0.0029,"hi":0.0029},{"t":3.87,"lo":-0.0031,"hi":0.0028},{"t":3.89,"lo":-0.0027,"hi":0.003},{"t":3.91,"lo":-0.0028,"hi":0.0033},{"t":3.93,"lo":-0.003,"hi":0.0028},{"t":3.95,"lo":-0.0029,"hi":0.0029},{"t":3.97,"lo":-0.0031,"hi":0.0031},{"t":3.99,"lo":-0.0028,"hi":0.0027},
{"t":4.01,"lo":-0.003,"hi":0.003},{"t":4.03,"lo":-0.0027,"hi":0.0028},{"t":4.05,"lo":-0.0029,"hi":0.0029},{"t":4.07,"lo":-0.0031,"hi":0.0031},{"t":4.09,"lo":-0.0028,"hi":0.0036},{"t":4.11,"lo":-0.003,"hi":0.0028},{"t":4.13,"lo":-0.0029,"hi":0.003},{"t":4.15,"lo":-0.0027,"hi":0.0027},{"t":4.17,"lo":-0.0031,"hi":0.0029},{"t":4.19,"lo":-0.0028,"hi":0.0031},
{"t":4.21,"lo":-0.0029,"hi":0.0028},{"t":4.23,"lo":-0.0031,"hi":0.003},{"t":4.25,"lo":-0.0028,"hi":0.0033},{"t":4.27,"lo":-0.003,"hi":0.0029},{"t":4.29,"lo":-0.0034,"hi":0.0027},{"t":4.31,"lo":-0.0029,"hi":0.0031},{"t":4.33,"lo":-0.0027,"hi":0.0029},{"t":4.35,"lo":-0.0031,"hi":0.0028},{"t":4.37,"lo":-0.0028,"hi":0.003},{"t":4.39,"lo":-0.003,"hi":0.0035},
{"t":4.41,"lo":-0.0028,"hi":0.0029},{"t":4.43,"lo":-0.0031,"hi":0.0031},{"t":4.45,"lo":-0.0029,"hi":0.0028},{"t":4.47,"lo":-0.0027,"hi":0.003},{"t":4.49,"lo":-0.003,"hi":0.004},{"t":4.51,"lo":-0.0028,"hi":0.0029},{"t":4.53,"lo":-0.0031,"hi":0.0027},{"t":4.55,"lo":-0.0029,"hi":0.0031},{"t":4.57,"lo":-0.0027,"hi":0.003},{"t":4.59,"lo":-0.003,"hi":0.0036},
{"t":4.61,"lo":-0.0031,"hi":0.0028},{"t":4.63,"lo":-0.0028,"hi":0.003},{"t":4.65,"lo":-0.0029,"hi":0.0029},{"t":4.67,"lo":-0.003,"hi":0.0031},{"t":4.69,"lo":-0.0027,"hi":0.0027},{"t":4.71,"lo":-0.0031,"hi":0.003},{"t":4.73,"lo":-0.0028,"hi":0.0028},{"t":4.75,"lo":-0.003,"hi":0.0033},{"t":4.77,"lo":-0.0029,"hi":0.0029},{"t":4.79,"lo":-0.0031,"hi":0.003},
{"t":4.81,"lo":-0.0028,"hi":0.0031},{"t":4.83,"lo":-0.003,"hi":0.0028},{"t":4.85,"lo":-0.0029,"hi":0.003},{"t":4.87,"lo":-0.0031,"hi":0.0029},{"t":4.89,"lo":-0.0027,"hi":0.0027},{"t":4.91,"lo":-0.003,"hi":0.0031},{"t":4.93,"lo":-0.0029,"hi":0.003},{"t":4.95,"lo":-0.0038,"hi":0.0028},{"t":4.97,"lo":-0.0031,"hi":0.0029},{"t":4.99,"lo":-0.0036,"hi":0.003}]},
  "layer": [
    {"mark": {"type": "rule", "color": "#2ca02c", "strokeWidth": 2.5, "clip": true},
     "encoding": {
       "x": {"field": "t", "type": "quantitative", "scale": {"domain": [0, 5], "nice": false}, "axis": {"values": [0,1,2,3,4,5], "format": "d", "title": "Время (с)"}},
       "y": {"field": "lo", "type": "quantitative", "scale": {"domain": [-0.00455, 0.0046], "nice": false, "zero": false}, "axis": {"values": [-0.004,-0.002,0,0.002,0.004], "format": ".3f", "title": "I (мкА)"}},
       "y2": {"field": "hi"}}},
    {"mark": {"type": "rule", "opacity": 0},
     "encoding": {
       "x": {"field": "t", "type": "quantitative", "scale": {"domain": [0, 5], "nice": false}, "axis": {"orient": "top", "title": "Тепловой шум", "labels": false, "ticks": false, "domain": false, "grid": false, "titleX": 0, "titleY": -11, "titleAlign": "left", "titleBaseline": "alphabetic", "titleFontSize": 23}},
       "y": {"field": "lo", "type": "quantitative", "scale": {"domain": [-0.00455, 0.0046], "nice": false, "zero": false}, "axis": {"values": [-0.004,-0.002,0,0.002,0.004], "format": ".3f", "title": "I (мкА)"}},
       "y2": {"field": "hi"}}}
  ],
  "resolve": {"axis": {"x": "independent"}}
},
{
  "width": 518, "height": 233,
  "title": {"text": "е"},
  "data": {"values": [{"t":0.01,"lo":-0.13,"hi":0.14},{"t":0.03,"lo":-0.14,"hi":0.13},{"t":0.05,"lo":-0.12,"hi":0.15},{"t":0.07,"lo":-0.15,"hi":0.12},{"t":0.09,"lo":-0.13,"hi":0.14},{"t":0.11,"lo":-0.14,"hi":0.13},{"t":0.13,"lo":-0.12,"hi":0.15},{"t":0.15,"lo":-0.15,"hi":0.14},{"t":0.17,"lo":-0.17,"hi":0.18},{"t":0.19,"lo":-0.14,"hi":0.13},
{"t":0.21,"lo":-0.13,"hi":0.14},{"t":0.23,"lo":-0.15,"hi":0.12},{"t":0.25,"lo":-0.12,"hi":0.15},{"t":0.27,"lo":-0.14,"hi":0.16},{"t":0.29,"lo":-0.13,"hi":0.13},{"t":0.31,"lo":-0.15,"hi":0.14},{"t":0.33,"lo":-0.14,"hi":0.12},{"t":0.35,"lo":-0.12,"hi":0.15},{"t":0.37,"lo":-0.13,"hi":0.13},{"t":0.39,"lo":-0.15,"hi":0.14},
{"t":0.41,"lo":-0.14,"hi":0.13},{"t":0.43,"lo":-0.12,"hi":0.15},{"t":0.45,"lo":-0.13,"hi":0.12},{"t":0.47,"lo":-0.15,"hi":0.14},{"t":0.49,"lo":-0.16,"hi":0.13},{"t":0.51,"lo":-0.13,"hi":0.14},{"t":0.53,"lo":-0.14,"hi":0.16},{"t":0.55,"lo":-0.12,"hi":0.13},{"t":0.57,"lo":-0.15,"hi":0.12},{"t":0.59,"lo":-0.13,"hi":0.14},
{"t":0.61,"lo":-0.14,"hi":0.15},{"t":0.63,"lo":-0.15,"hi":0.13},{"t":0.65,"lo":-0.12,"hi":0.14},{"t":0.67,"lo":-0.13,"hi":0.12},{"t":0.69,"lo":-0.14,"hi":0.15},{"t":0.71,"lo":-0.15,"hi":0.13},{"t":0.73,"lo":-0.12,"hi":0.14},{"t":0.75,"lo":-0.14,"hi":0.12},{"t":0.77,"lo":-0.13,"hi":0.15},{"t":0.79,"lo":-0.15,"hi":0.13},
{"t":0.81,"lo":-0.12,"hi":0.14},{"t":0.83,"lo":-0.14,"hi":0.13},{"t":0.85,"lo":-0.13,"hi":0.15},{"t":0.87,"lo":-0.15,"hi":0.12},{"t":0.89,"lo":-0.14,"hi":0.14},{"t":0.91,"lo":-0.12,"hi":0.13},{"t":0.93,"lo":-0.13,"hi":0.15},{"t":0.95,"lo":-0.15,"hi":0.14},{"t":0.97,"lo":-0.14,"hi":0.12},{"t":0.99,"lo":-0.13,"hi":0.13},
{"t":1.01,"lo":-0.15,"hi":0.15},{"t":1.03,"lo":-0.12,"hi":0.14},{"t":1.05,"lo":-0.14,"hi":0.13},{"t":1.07,"lo":-0.13,"hi":0.12},{"t":1.09,"lo":-0.15,"hi":0.15},{"t":1.11,"lo":-0.14,"hi":0.13},{"t":1.13,"lo":-0.12,"hi":0.14},{"t":1.15,"lo":-0.13,"hi":0.15},{"t":1.17,"lo":-0.15,"hi":0.12},{"t":1.19,"lo":-0.14,"hi":0.14},
{"t":1.21,"lo":-0.12,"hi":0.13},{"t":1.23,"lo":-0.13,"hi":0.15},{"t":1.25,"lo":-0.15,"hi":0.14},{"t":1.27,"lo":-0.14,"hi":0.12},{"t":1.29,"lo":-0.13,"hi":0.13},{"t":1.31,"lo":-0.15,"hi":0.14},{"t":1.33,"lo":-0.12,"hi":0.15},{"t":1.35,"lo":-0.14,"hi":0.13},{"t":1.37,"lo":-0.2,"hi":0.12},{"t":1.39,"lo":-0.13,"hi":0.14},
{"t":1.41,"lo":-0.14,"hi":0.15},{"t":1.43,"lo":-0.15,"hi":0.13},{"t":1.45,"lo":-0.12,"hi":0.14},{"t":1.47,"lo":-0.13,"hi":0.12},{"t":1.49,"lo":-0.15,"hi":0.15},{"t":1.51,"lo":-0.14,"hi":0.14},{"t":1.53,"lo":-0.13,"hi":0.13},{"t":1.55,"lo":-0.12,"hi":0.15},{"t":1.57,"lo":-0.15,"hi":0.12},{"t":1.59,"lo":-0.14,"hi":0.14},
{"t":1.61,"lo":-0.13,"hi":0.13},{"t":1.63,"lo":-0.15,"hi":0.19},{"t":1.65,"lo":-0.14,"hi":0.14},{"t":1.67,"lo":-0.12,"hi":0.12},{"t":1.69,"lo":-0.13,"hi":0.16},{"t":1.71,"lo":-0.15,"hi":0.13},{"t":1.73,"lo":-0.14,"hi":0.15},{"t":1.75,"lo":-0.13,"hi":0.14},{"t":1.77,"lo":-0.17,"hi":0.12},{"t":1.79,"lo":-0.12,"hi":0.13},
{"t":1.81,"lo":-0.15,"hi":0.15},{"t":1.83,"lo":-0.14,"hi":0.13},{"t":1.85,"lo":-0.13,"hi":0.14},{"t":1.87,"lo":-0.12,"hi":0.12},{"t":1.89,"lo":-0.15,"hi":0.15},{"t":1.91,"lo":-0.14,"hi":0.14},{"t":1.93,"lo":-0.13,"hi":0.13},{"t":1.95,"lo":-0.15,"hi":0.15},{"t":1.97,"lo":-0.12,"hi":0.12},{"t":1.99,"lo":-0.14,"hi":0.14},
{"t":2.01,"lo":-0.13,"hi":0.13},{"t":2.03,"lo":-0.15,"hi":0.15},{"t":2.05,"lo":-0.14,"hi":0.14},{"t":2.07,"lo":-0.12,"hi":0.12},{"t":2.09,"lo":-0.13,"hi":0.13},{"t":2.11,"lo":-0.15,"hi":0.15},{"t":2.13,"lo":-0.17,"hi":0.14},{"t":2.15,"lo":-0.14,"hi":0.13},{"t":2.17,"lo":-0.13,"hi":0.12},{"t":2.19,"lo":-0.12,"hi":0.15},
{"t":2.21,"lo":-0.15,"hi":0.14},{"t":2.23,"lo":-0.14,"hi":0.13},{"t":2.25,"lo":-0.13,"hi":0.15},{"t":2.27,"lo":-0.15,"hi":0.21},{"t":2.29,"lo":-0.12,"hi":0.12},{"t":2.31,"lo":-0.14,"hi":0.14},{"t":2.33,"lo":-0.13,"hi":0.13},{"t":2.35,"lo":-0.15,"hi":0.15},{"t":2.37,"lo":-0.14,"hi":0.14},{"t":2.39,"lo":-0.12,"hi":0.12},
{"t":2.41,"lo":-0.13,"hi":0.13},{"t":2.43,"lo":-0.15,"hi":0.15},{"t":2.45,"lo":-0.14,"hi":0.14},{"t":2.47,"lo":-0.12,"hi":0.13},{"t":2.49,"lo":-0.15,"hi":0.12},{"t":2.51,"lo":-0.13,"hi":0.15},{"t":2.53,"lo":-0.14,"hi":0.14},{"t":2.55,"lo":-0.15,"hi":0.13},{"t":2.57,"lo":-0.12,"hi":0.15},{"t":2.59,"lo":-0.14,"hi":0.12},
{"t":2.61,"lo":-0.13,"hi":0.14},{"t":2.63,"lo":-0.15,"hi":0.13},{"t":2.65,"lo":-0.12,"hi":0.15},{"t":2.67,"lo":-0.14,"hi":0.12},{"t":2.69,"lo":-0.13,"hi":0.14},{"t":2.71,"lo":-0.15,"hi":0.13},{"t":2.73,"lo":-0.14,"hi":0.15},{"t":2.75,"lo":-0.12,"hi":0.14},{"t":2.77,"lo":-0.13,"hi":0.12},{"t":2.79,"lo":-0.15,"hi":0.17},
{"t":2.81,"lo":-0.14,"hi":0.13},{"t":2.83,"lo":-0.12,"hi":0.14},{"t":2.85,"lo":-0.13,"hi":0.15},{"t":2.87,"lo":-0.15,"hi":0.12},{"t":2.89,"lo":-0.14,"hi":0.13},{"t":2.91,"lo":-0.13,"hi":0.14},{"t":2.93,"lo":-0.15,"hi":0.15},{"t":2.95,"lo":-0.12,"hi":0.13},{"t":2.97,"lo":-0.14,"hi":0.12},{"t":2.99,"lo":-0.16,"hi":0.14},
{"t":3.01,"lo":-0.13,"hi":0.19},{"t":3.03,"lo":-0.15,"hi":0.13},{"t":3.05,"lo":-0.14,"hi":0.14},{"t":3.07,"lo":-0.12,"hi":0.15},{"t":3.09,"lo":-0.13,"hi":0.12},{"t":3.11,"lo":-0.15,"hi":0.13},{"t":3.13,"lo":-0.14,"hi":0.14},{"t":3.15,"lo":-0.13,"hi":0.15},{"t":3.17,"lo":-0.12,"hi":0.13},{"t":3.19,"lo":-0.15,"hi":0.12},
{"t":3.21,"lo":-0.14,"hi":0.14},{"t":3.23,"lo":-0.13,"hi":0.15},{"t":3.25,"lo":-0.15,"hi":0.13},{"t":3.27,"lo":-0.12,"hi":0.12},{"t":3.29,"lo":-0.14,"hi":0.14},{"t":3.31,"lo":-0.13,"hi":0.15},{"t":3.33,"lo":-0.15,"hi":0.13},{"t":3.35,"lo":-0.14,"hi":0.16},{"t":3.37,"lo":-0.12,"hi":0.12},{"t":3.39,"lo":-0.13,"hi":0.14},
{"t":3.41,"lo":-0.15,"hi":0.13},{"t":3.43,"lo":-0.14,"hi":0.15},{"t":3.45,"lo":-0.13,"hi":0.14},{"t":3.47,"lo":-0.12,"hi":0.12},{"t":3.49,"lo":-0.15,"hi":0.13},{"t":3.51,"lo":-0.14,"hi":0.15},{"t":3.53,"lo":-0.13,"hi":0.14},{"t":3.55,"lo":-0.17,"hi":0.13},{"t":3.57,"lo":-0.12,"hi":0.12},{"t":3.59,"lo":-0.14,"hi":0.16},
{"t":3.61,"lo":-0.13,"hi":0.14},{"t":3.63,"lo":-0.15,"hi":0.13},{"t":3.65,"lo":-0.14,"hi":0.15},{"t":3.67,"lo":-0.12,"hi":0.12},{"t":3.69,"lo":-0.13,"hi":0.14},{"t":3.71,"lo":-0.15,"hi":0.13},{"t":3.73,"lo":-0.14,"hi":0.15},{"t":3.75,"lo":-0.13,"hi":0.14},{"t":3.77,"lo":-0.12,"hi":0.12},{"t":3.79,"lo":-0.2,"hi":0.13},
{"t":3.81,"lo":-0.14,"hi":0.15},{"t":3.83,"lo":-0.13,"hi":0.13},{"t":3.85,"lo":-0.15,"hi":0.14},{"t":3.87,"lo":-0.12,"hi":0.12},{"t":3.89,"lo":-0.14,"hi":0.15},{"t":3.91,"lo":-0.13,"hi":0.14},{"t":3.93,"lo":-0.15,"hi":0.13},{"t":3.95,"lo":-0.14,"hi":0.15},{"t":3.97,"lo":-0.12,"hi":0.12},{"t":3.99,"lo":-0.15,"hi":0.14},
{"t":4.01,"lo":-0.13,"hi":0.13},{"t":4.03,"lo":-0.14,"hi":0.15},{"t":4.05,"lo":-0.22,"hi":0.14},{"t":4.07,"lo":-0.15,"hi":0.12},{"t":4.09,"lo":-0.13,"hi":0.13},{"t":4.11,"lo":-0.14,"hi":0.18},{"t":4.13,"lo":-0.12,"hi":0.14},{"t":4.15,"lo":-0.15,"hi":0.13},{"t":4.17,"lo":-0.14,"hi":0.15},{"t":4.19,"lo":-0.13,"hi":0.12},
{"t":4.21,"lo":-0.15,"hi":0.14},{"t":4.23,"lo":-0.14,"hi":0.13},{"t":4.25,"lo":-0.21,"hi":0.15},{"t":4.27,"lo":-0.12,"hi":0.12},{"t":4.29,"lo":-0.15,"hi":0.14},{"t":4.31,"lo":-0.14,"hi":0.13},{"t":4.33,"lo":-0.13,"hi":0.15},{"t":4.35,"lo":-0.15,"hi":0.14},{"t":4.37,"lo":-0.12,"hi":0.12},{"t":4.39,"lo":-0.14,"hi":0.13},
{"t":4.41,"lo":-0.13,"hi":0.15},{"t":4.43,"lo":-0.15,"hi":0.13},{"t":4.45,"lo":-0.14,"hi":0.14},{"t":4.47,"lo":-0.12,"hi":0.16},{"t":4.49,"lo":-0.13,"hi":0.12},{"t":4.51,"lo":-0.15,"hi":0.15},{"t":4.53,"lo":-0.14,"hi":0.14},{"t":4.55,"lo":-0.13,"hi":0.13},{"t":4.57,"lo":-0.12,"hi":0.12},{"t":4.59,"lo":-0.16,"hi":0.15},
{"t":4.61,"lo":-0.14,"hi":0.14},{"t":4.63,"lo":-0.13,"hi":0.13},{"t":4.65,"lo":-0.15,"hi":0.15},{"t":4.67,"lo":-0.12,"hi":0.12},{"t":4.69,"lo":-0.14,"hi":0.14},{"t":4.71,"lo":-0.13,"hi":0.17},{"t":4.73,"lo":-0.15,"hi":0.13},{"t":4.75,"lo":-0.14,"hi":0.15},{"t":4.77,"lo":-0.12,"hi":0.12},{"t":4.79,"lo":-0.15,"hi":0.14},
{"t":4.81,"lo":-0.13,"hi":0.13},{"t":4.83,"lo":-0.14,"hi":0.15},{"t":4.85,"lo":-0.15,"hi":0.17},{"t":4.87,"lo":-0.12,"hi":0.12},{"t":4.89,"lo":-0.14,"hi":0.14},{"t":4.91,"lo":-0.13,"hi":0.13},{"t":4.93,"lo":-0.15,"hi":0.15},{"t":4.95,"lo":-0.14,"hi":0.14},{"t":4.97,"lo":-0.13,"hi":0.12},{"t":4.99,"lo":-0.14,"hi":0.13}]},
  "layer": [
    {"mark": {"type": "rule", "color": "#9467bd", "strokeWidth": 2.5, "clip": true},
     "encoding": {
       "x": {"field": "t", "type": "quantitative", "scale": {"domain": [0, 5], "nice": false}, "axis": {"values": [0,1,2,3,4,5], "format": "d", "title": "Время (с)"}},
       "y": {"field": "lo", "type": "quantitative", "scale": {"domain": [-0.245, 0.237], "nice": false, "zero": false}, "axis": {"values": [-0.2,-0.1,0,0.1,0.2], "format": ".1f", "title": "I (мкА)"}},
       "y2": {"field": "hi"}}},
    {"mark": {"type": "rule", "opacity": 0},
     "encoding": {
       "x": {"field": "t", "type": "quantitative", "scale": {"domain": [0, 5], "nice": false}, "axis": {"orient": "top", "title": "Шум усилителя", "labels": false, "ticks": false, "domain": false, "grid": false, "titleX": 0, "titleY": -11, "titleAlign": "left", "titleBaseline": "alphabetic", "titleFontSize": 23}},
       "y": {"field": "lo", "type": "quantitative", "scale": {"domain": [-0.245, 0.237], "nice": false, "zero": false}, "axis": {"values": [-0.2,-0.1,0,0.1,0.2], "format": ".1f", "title": "I (мкА)"}},
       "y2": {"field": "hi"}}}
  ],
  "resolve": {"axis": {"x": "independent"}}
}
]
}
